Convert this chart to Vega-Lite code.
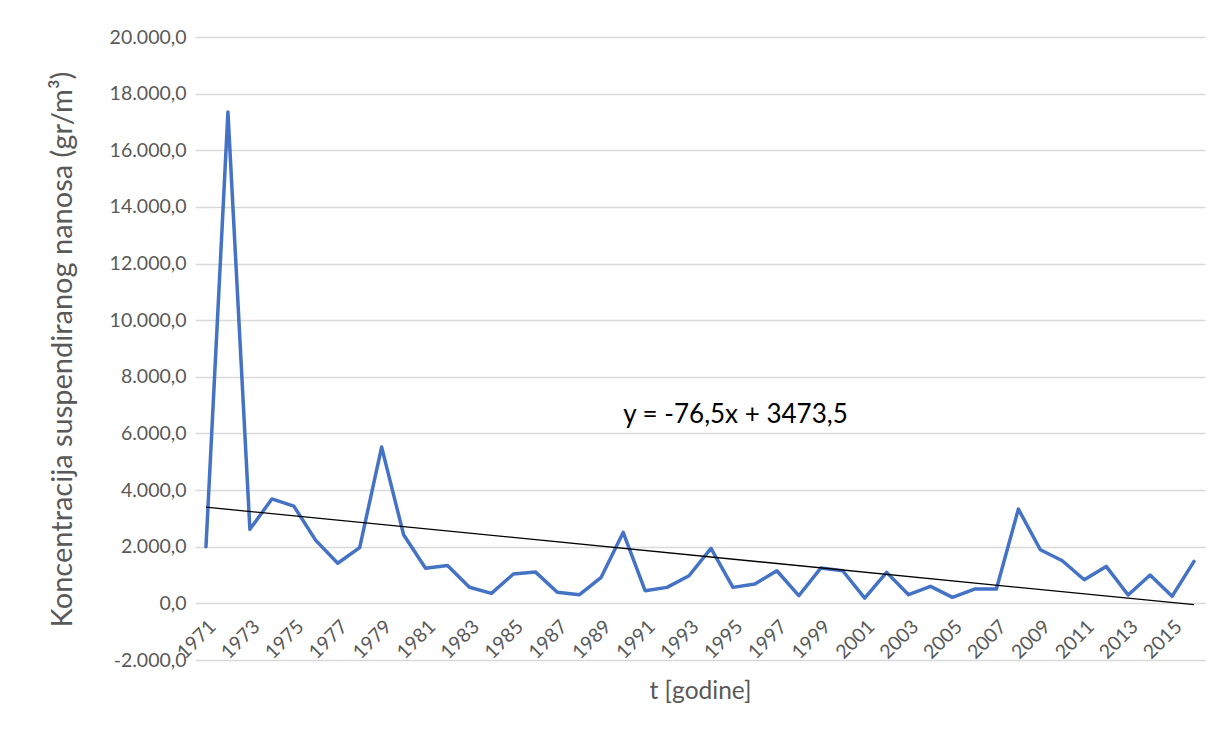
{
  "$schema": "https://vega.github.io/schema/vega-lite/v6.json",
  "autosize": {"type": "none"},
  "padding": {"left": 195, "top": 37, "right": 25, "bottom": 76},
  "width": 1010,
  "height": 623,
  "background": "white",
  "config": {
    "locale": {"number": {"decimal": ",", "thousands": ".", "grouping": [3], "currency": ["", ""], "minus": "-"}},
    "font": "Lato",
    "view": {"stroke": null}
  },
  "datasets": {
    "series": [
      {"year": 1971, "value": 2000}, {"year": 1972, "value": 17350}, {"year": 1973, "value": 2614},
      {"year": 1974, "value": 3688}, {"year": 1975, "value": 3435}, {"year": 1976, "value": 2223},
      {"year": 1977, "value": 1415}, {"year": 1978, "value": 1970}, {"year": 1979, "value": 5519},
      {"year": 1980, "value": 2425}, {"year": 1981, "value": 1238}, {"year": 1982, "value": 1339},
      {"year": 1983, "value": 568}, {"year": 1984, "value": 354}, {"year": 1985, "value": 1036},
      {"year": 1986, "value": 1111}, {"year": 1987, "value": 392}, {"year": 1988, "value": 303},
      {"year": 1989, "value": 920}, {"year": 1990, "value": 2505}, {"year": 1991, "value": 447},
      {"year": 1992, "value": 565}, {"year": 1993, "value": 976}, {"year": 1994, "value": 1940},
      {"year": 1995, "value": 565}, {"year": 1996, "value": 682}, {"year": 1997, "value": 1152},
      {"year": 1998, "value": 270}, {"year": 1999, "value": 1247}, {"year": 2000, "value": 1152},
      {"year": 2001, "value": 188}, {"year": 2002, "value": 1094}, {"year": 2003, "value": 306},
      {"year": 2004, "value": 600}, {"year": 2005, "value": 212}, {"year": 2006, "value": 506},
      {"year": 2007, "value": 506}, {"year": 2008, "value": 3328}, {"year": 2009, "value": 1893},
      {"year": 2010, "value": 1505}, {"year": 2011, "value": 835}, {"year": 2012, "value": 1305},
      {"year": 2013, "value": 294}, {"year": 2014, "value": 1000}, {"year": 2015, "value": 247},
      {"year": 2016, "value": 1482}
    ],
    "trend": [
      {"year": 1971, "trend": 3397},
      {"year": 2016, "trend": -45.5}
    ],
    "eq": [
      {"year": 1990, "pos": 6650, "label": "y = -76,5x + 3473,5"}
    ]
  },
  "layer": [
    {
      "data": {"name": "series"},
      "mark": {"type": "line", "color": "#4472c4", "strokeWidth": 3.5, "strokeJoin": "round", "strokeCap": "round"},
      "encoding": {
        "x": {
          "field": "year", "type": "quantitative",
          "scale": {"domain": [1970.5, 2016.5], "nice": false, "zero": false},
          "axis": {
            "values": [1971, 1973, 1975, 1977, 1979, 1981, 1983, 1985, 1987, 1989, 1991, 1993, 1995, 1997, 1999, 2001, 2003, 2005, 2007, 2009, 2011, 2013, 2015],
            "format": "d",
            "labelAngle": -45,
            "labelFontSize": 19.5,
            "labelColor": "#595959",
            "labelOverlap": false,
            "labelBound": false,
            "labelFlush": false,
            "ticks": false,
            "domain": false,
            "grid": false,
            "offset": -57,
            "labelPadding": 14,
            "title": "t [godine]",
            "titleFontSize": 24.5,
            "titleFontWeight": "normal",
            "titleColor": "#595959",
            "titleY": 88,
            "titleBaseline": "middle"
          }
        },
        "y": {
          "field": "value", "type": "quantitative",
          "scale": {"domain": [-2000, 20000], "nice": false, "zero": false},
          "axis": {
            "values": [-2000, 0, 2000, 4000, 6000, 8000, 10000, 12000, 14000, 16000, 18000, 20000],
            "format": ",.1f",
            "labelFontSize": 19.5,
            "labelColor": "#595959",
            "labelPadding": 9,
            "labelOverlap": false,
            "ticks": false,
            "domain": false,
            "gridColor": "#d9d9d9",
            "gridWidth": 1.5,
            "title": "Koncentracija suspendiranog nanosa (gr/m³)",
            "titleFontSize": 29,
            "titleFontWeight": "normal",
            "titleColor": "#595959",
            "titleX": -133,
            "titleY": 312,
            "titleBaseline": "middle"
          }
        }
      }
    },
    {
      "data": {"name": "trend"},
      "mark": {"type": "line", "color": "#000000", "strokeWidth": 1.3},
      "encoding": {
        "x": {"field": "year", "type": "quantitative"},
        "y": {"field": "trend", "type": "quantitative"}
      }
    },
    {
      "data": {"name": "eq"},
      "mark": {"type": "text", "align": "left", "baseline": "middle", "fontSize": 26, "color": "#000000"},
      "encoding": {
        "x": {"field": "year", "type": "quantitative"},
        "y": {"field": "pos", "type": "quantitative"},
        "text": {"field": "label"}
      }
    }
  ]
}
